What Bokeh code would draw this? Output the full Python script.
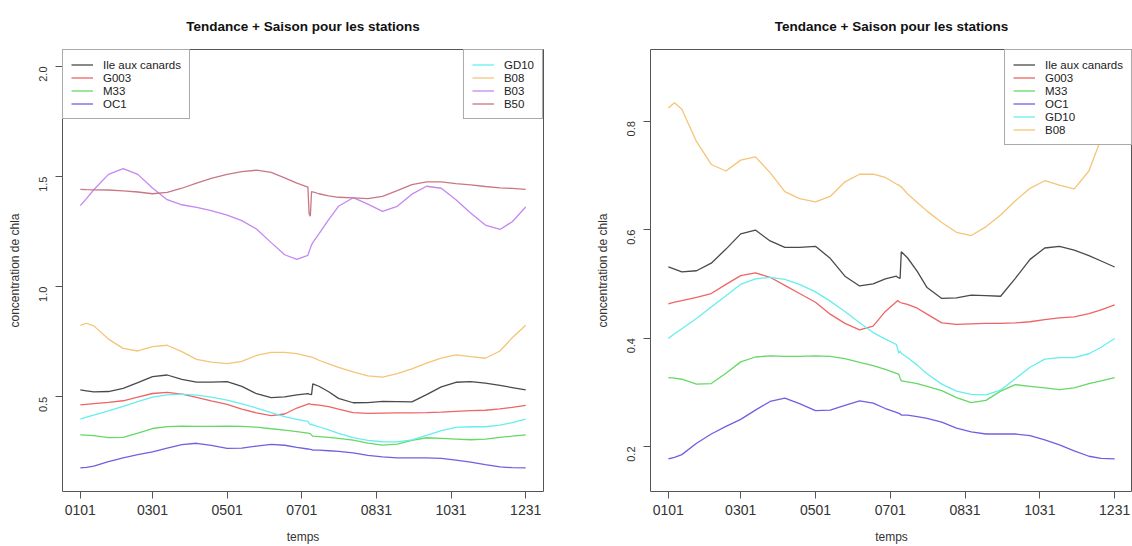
import math
from bokeh.plotting import figure
from bokeh.layouts import row
from bokeh.models import Range1d, FixedTicker, Legend, LegendItem, PrintfTickFormatter
from bokeh.embed import file_html
from bokeh.resources import INLINE

# ---------------- data (day of year) ----------------
days = [1, 6, 12, 24, 36, 48, 60, 72, 84, 96, 108, 121, 133, 145, 157, 168, 178,
        187, 188, 189, 190, 191, 196, 204, 212, 224, 236, 248, 260, 272, 284,
        296, 308, 320, 332, 344, 354, 365]

ile_aux_canards = [0.531, 0.527, 0.522, 0.524, 0.538, 0.564, 0.592, 0.599, 0.579, 0.567, 0.567,
                   0.569, 0.547, 0.514, 0.496, 0.500, 0.509, 0.514, 0.512, 0.511, 0.510,
                   0.559, 0.548, 0.523, 0.493, 0.473, 0.474, 0.479, 0.478, 0.477, 0.510,
                   0.545, 0.566, 0.569, 0.562, 0.552, 0.542, 0.531]
g003 = [0.463, 0.466, 0.469, 0.475, 0.482, 0.499, 0.515, 0.520, 0.512, 0.497, 0.482,
        0.466, 0.444, 0.427, 0.415, 0.422, 0.449, 0.467, 0.469, 0.467, 0.466,
        0.465, 0.462, 0.455, 0.444, 0.428, 0.425, 0.426, 0.427, 0.427, 0.428,
        0.430, 0.434, 0.437, 0.439, 0.445, 0.452, 0.461]
m33 = [0.327, 0.326, 0.324, 0.315, 0.316, 0.335, 0.356, 0.365, 0.367, 0.366, 0.366,
       0.367, 0.366, 0.362, 0.355, 0.349, 0.342, 0.335, 0.334, 0.333, 0.326,
       0.321, 0.319, 0.316, 0.311, 0.303, 0.290, 0.281, 0.285, 0.302, 0.314,
       0.311, 0.308, 0.305, 0.308, 0.316, 0.321, 0.327]
oc1 = [0.177, 0.180, 0.185, 0.206, 0.223, 0.237, 0.250, 0.267, 0.283, 0.289, 0.279,
       0.266, 0.267, 0.276, 0.284, 0.280, 0.270, 0.263, 0.262, 0.261, 0.260,
       0.258, 0.258, 0.255, 0.252, 0.245, 0.234, 0.227, 0.223, 0.223, 0.223,
       0.220, 0.212, 0.203, 0.192, 0.182, 0.178, 0.177]
gd10 = [0.399, 0.408, 0.417, 0.436, 0.457, 0.478, 0.499, 0.509, 0.512, 0.508, 0.499,
        0.485, 0.468, 0.449, 0.428, 0.410, 0.398, 0.388, 0.380, 0.372, 0.376,
        0.372, 0.364, 0.350, 0.334, 0.315, 0.302, 0.296, 0.295, 0.304, 0.325,
        0.346, 0.361, 0.364, 0.364, 0.371, 0.383, 0.399]
b08 = [0.824, 0.834, 0.822, 0.762, 0.720, 0.708, 0.728, 0.734, 0.705, 0.670, 0.657,
       0.651, 0.661, 0.688, 0.702, 0.702, 0.696, 0.684, 0.683, 0.682, 0.680,
       0.679, 0.666, 0.650, 0.634, 0.613, 0.595, 0.589, 0.605, 0.627, 0.653,
       0.676, 0.690, 0.682, 0.675, 0.708, 0.768, 0.825]
b03 = [1.368, 1.400, 1.440, 1.510, 1.536, 1.510, 1.448, 1.395, 1.372, 1.360, 1.345,
       1.325, 1.300, 1.262, 1.200, 1.145, 1.124, 1.142, 1.160, 1.175, 1.190,
       1.200, 1.240, 1.305, 1.365, 1.404, 1.375, 1.342, 1.365, 1.420, 1.456,
       1.447, 1.395, 1.335, 1.280, 1.260, 1.295, 1.362]
b50 = [1.442, 1.441, 1.440, 1.439, 1.435, 1.430, 1.422, 1.428, 1.447, 1.470, 1.492,
       1.510, 1.522, 1.529, 1.519, 1.494, 1.470, 1.452, 1.330, 1.320, 1.432,
       1.430, 1.422, 1.412, 1.406, 1.403, 1.400, 1.410, 1.436, 1.463, 1.476,
       1.476, 1.468, 1.462, 1.455, 1.449, 1.446, 1.442]

tick_days = [1, 60, 121, 182, 243, 304, 365]
tick_labels = ["0101", "0301", "0501", "0701", "0831", "1031", "1231"]
left_yticks = [0.5, 1.0, 1.5, 2.0]
right_yticks = [0.2, 0.4, 0.6, 0.8]

title_text = "Tendance + Saison pour les stations"
x_label = "temps"
y_label = "concentration de chla"

colors = {
    "Ile aux canards": "#4a4a4a",
    "G003": "#ef6464",
    "M33": "#66d866",
    "OC1": "#7060e0",
    "GD10": "#66eeee",
    "B08": "#f5c477",
    "B03": "#c488f0",
    "B50": "#c87884",
}

FONT = "Liberation Sans"


def make_fig(y_lo, y_hi, yticks, border_left, border_right):
    p = figure(width=566, height=546,
               x_range=Range1d(-13.56, 379.56), y_range=Range1d(y_lo, y_hi),
               output_backend="svg", toolbar_location=None,
               min_border_left=border_left, min_border_right=border_right,
               min_border_top=49, min_border_bottom=54)
    p.title.text = title_text
    p.title.align = "center"
    p.title.text_font = FONT
    p.title.text_font_size = "13.5px"
    p.title.text_font_style = "bold"
    p.title.text_color = "#111111"
    p.title.standoff = 32
    p.xgrid.visible = False
    p.ygrid.visible = False
    p.outline_line_color = "#555555"
    p.outline_line_width = 1
    p.outline_line_alpha = 1
    p.background_fill_color = "white"
    p.border_fill_color = "white"

    xa = p.xaxis[0]
    xa.ticker = FixedTicker(ticks=tick_days)
    xa.major_label_overrides = {d: t for d, t in zip(tick_days, tick_labels)}
    xa.axis_label = x_label
    ya = p.yaxis[0]
    ya.ticker = FixedTicker(ticks=yticks)
    ya.formatter = PrintfTickFormatter(format="%.1f")
    ya.major_label_orientation = math.pi / 2
    ya.axis_label = y_label
    for ax in (xa, ya):
        ax.axis_line_color = None
        ax.major_tick_line_color = "#555555"
        ax.major_tick_out = 7
        ax.major_tick_in = 0
        ax.minor_tick_line_color = None
        ax.axis_label_text_font = FONT
        ax.axis_label_text_font_style = "normal"
        ax.axis_label_text_font_size = "12px"
        ax.axis_label_text_color = "#333333"
        ax.major_label_text_font = FONT
        ax.major_label_text_color = "#333333"
    xa.major_label_text_font_size = "14px"
    xa.major_label_standoff = 6
    xa.axis_label_standoff = 12
    ya.major_label_text_font_size = "11px"
    ya.major_label_standoff = 12
    ya.axis_label_standoff = 11
    return p


def make_legend(items, location):
    lg = Legend(items=items, location=location, margin=0, padding=8, spacing=0,
                label_height=13, glyph_height=13, glyph_width=22, label_standoff=10,
                label_text_font=FONT, label_text_font_size="11.5px",
                label_text_color="#222222", border_line_color="#555555",
                border_line_width=1, background_fill_color="white",
                background_fill_alpha=1)
    return lg


series = [("Ile aux canards", ile_aux_canards), ("G003", g003), ("M33", m33),
          ("OC1", oc1), ("GD10", gd10), ("B08", b08), ("B03", b03), ("B50", b50)]

# ---------------- left panel ----------------
p1 = make_fig(0.07, 2.077, left_yticks, 62, 23)
r1 = {}
for name, vals in series:
    r1[name] = p1.line(days, vals, line_color=colors[name], line_width=1.3)
leg_a = make_legend([LegendItem(label=n, renderers=[r1[n]])
                     for n in ["Ile aux canards", "G003", "M33", "OC1"]], "top_left")
leg_b = make_legend([LegendItem(label=n, renderers=[r1[n]])
                     for n in ["GD10", "B08", "B03", "B50"]], "top_right")
p1.add_layout(leg_a)
p1.add_layout(leg_b)

# ---------------- right panel ----------------
p2 = make_fig(0.117, 0.932, right_yticks, 84, 0)
r2 = {}
for name, vals in series[:6]:
    r2[name] = p2.line(days, vals, line_color=colors[name], line_width=1.3)
leg_c = make_legend([LegendItem(label=n, renderers=[r2[n]])
                     for n, _ in series[:6]], "top_right")
p2.add_layout(leg_c)

layout = row(p1, p2, spacing=0)
open("out.html", "w").write(file_html(layout, INLINE))
